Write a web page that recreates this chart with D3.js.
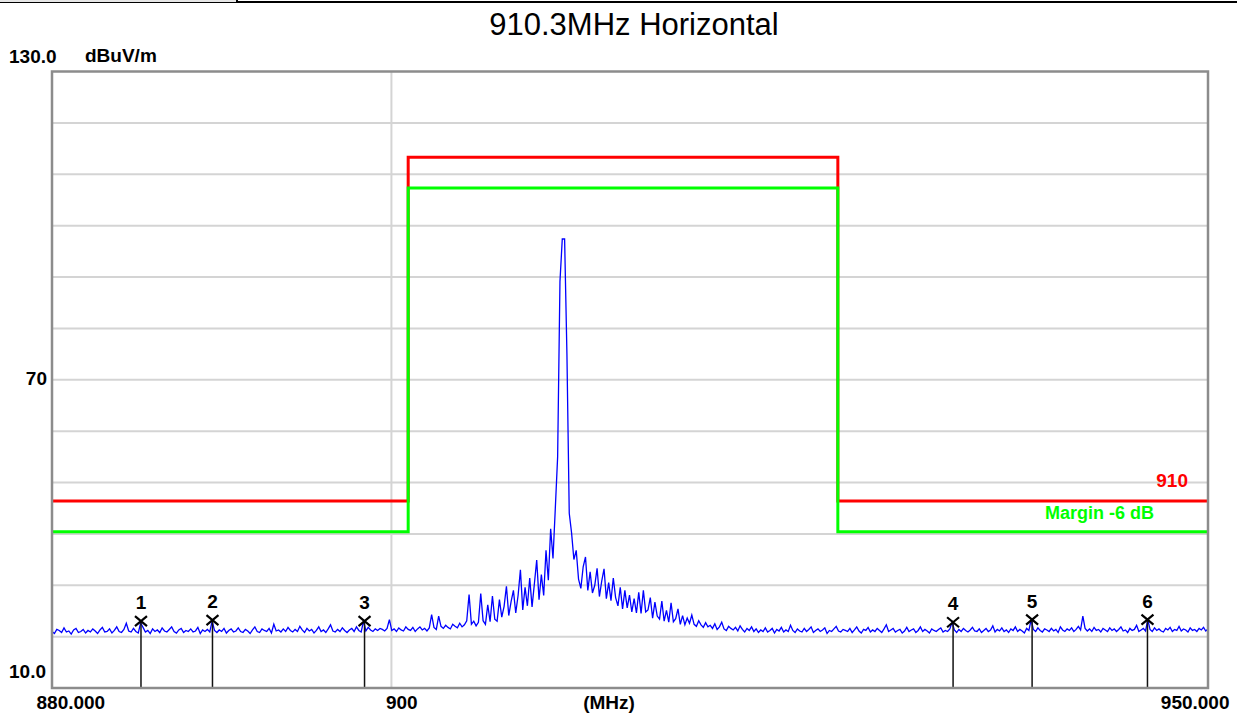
<!DOCTYPE html>
<html>
<head>
<meta charset="utf-8">
<script src="https://cdn.jsdelivr.net/npm/d3@7/dist/d3.min.js"></script>
<style>
  body { margin: 0; background: #fff; }
  svg { display: block; }
  text { font-family: "Liberation Sans", Arial, sans-serif; }
  .lbl { font-weight: bold; font-size: 19px; fill: #000; }
</style>
</head>
<body>
<svg id="chart" width="1237" height="713"></svg>
<script>
/* spectrum scan, 880 - 950 MHz, 501 sweep points */

const title = "910.3MHz Horizontal";
const unitY = "dBuV/m";
const unitX = "(MHz)";

const sweepStart = 880, sweepStop = 950;
// measured level per sweep point (dBuV/m)
const traceLevel = [
  21.0,20.6,21.4,21.2,20.8,21.7,20.9,21.1,20.5,21.3,
  21.6,20.8,21.0,21.4,20.7,21.2,20.9,21.5,21.1,20.6,
  21.3,21.8,20.9,21.0,21.5,20.7,21.2,21.9,21.0,20.8,
  21.4,22.6,21.1,20.9,21.6,21.0,20.7,22.7,21.8,20.9,
  21.2,20.6,21.5,21.0,21.3,20.8,21.7,21.1,20.9,21.4,
  21.9,21.0,20.7,21.3,21.6,20.8,21.2,21.0,21.5,20.9,
  21.1,21.8,20.6,21.3,21.0,21.4,20.9,23.0,21.2,20.8,
  21.3,21.0,21.6,20.7,21.2,21.5,20.9,21.1,21.7,21.0,
  20.8,21.4,21.1,20.6,21.3,21.9,21.0,20.8,21.5,21.2,
  21.0,21.6,20.7,22.4,21.1,21.3,20.9,21.5,21.0,21.8,
  21.2,20.9,21.4,21.0,22.0,21.3,20.8,21.6,21.1,21.4,
  20.7,21.2,21.9,21.0,21.3,20.8,21.5,22.3,21.1,20.9,
  21.4,21.0,21.7,21.2,20.8,21.3,21.6,21.0,21.9,21.2,
  20.9,23.0,21.1,21.8,21.3,21.0,21.5,21.2,21.6,21.4,
  21.1,21.6,23.3,21.2,21.5,21.0,21.7,21.3,21.1,21.9,
  21.4,21.2,21.8,21.0,21.5,21.9,21.3,21.6,21.1,21.7,
  24.3,21.8,21.4,24.0,22.0,21.6,22.2,21.8,21.5,22.4,
  22.0,21.7,22.6,21.9,22.3,23.1,28.2,22.4,23.0,22.1,
  22.8,28.4,23.1,22.4,26.2,22.9,27.9,23.4,23.0,27.2,
  23.8,25.9,29.8,24.1,26.8,29.0,24.6,28.0,33.0,25.2,
  29.6,26.0,31.4,25.8,30.3,34.9,27.2,32.1,28.0,36.8,
  31.0,41.0,35.2,45.0,55.0,89.1,97.4,97.4,75.0,44.0,
  40.2,35.0,36.8,31.2,29.4,33.6,35.5,29.0,32.6,28.5,
  30.0,33.3,27.8,30.8,33.2,27.4,30.5,27.0,31.4,27.6,
  26.0,29.6,25.4,29.0,25.6,28.1,24.8,27.4,24.6,28.6,
  24.5,29.0,24.8,25.2,27.6,23.6,26.7,24.0,23.4,26.9,
  23.0,25.1,22.8,26.6,22.9,23.5,25.4,22.4,24.1,22.3,
  23.6,22.6,24.2,22.4,22.0,23.1,22.3,21.8,22.7,21.9,
  22.2,21.6,22.5,21.4,21.9,22.8,21.5,21.2,22.0,21.6,
  21.3,21.8,21.1,22.1,21.4,20.9,21.6,21.2,21.9,21.0,
  21.5,20.8,21.3,21.0,21.7,20.9,21.2,21.6,20.7,21.4,
  21.1,21.8,20.9,21.3,21.0,22.2,21.2,20.8,21.5,21.1,
  20.9,21.6,21.0,21.4,21.9,20.8,21.2,21.5,21.0,21.3,
  21.7,20.6,21.2,21.0,21.5,22.0,21.1,20.9,21.4,21.2,
  21.0,21.6,20.8,21.3,21.9,21.1,20.7,21.4,21.2,21.8,
  20.9,21.3,21.0,21.6,21.2,20.8,21.5,22.3,21.0,21.3,
  21.6,20.9,21.2,21.4,20.7,21.1,21.8,21.0,21.3,21.5,
  20.8,21.2,21.9,21.0,21.4,21.1,20.7,21.5,21.2,21.0,
  21.4,21.7,20.9,21.2,21.0,21.5,22.8,21.3,20.8,21.4,
  21.0,21.6,21.2,20.9,21.3,21.8,21.1,21.0,21.5,20.8,
  21.2,21.6,21.0,21.3,22.1,20.9,21.4,21.1,21.7,21.0,
  21.3,20.8,21.5,21.2,21.9,21.0,21.4,21.1,20.7,21.6,
  21.2,23.3,21.4,21.0,21.7,21.2,20.9,21.5,21.3,21.0,
  21.6,21.1,21.4,20.8,21.9,21.3,21.0,21.5,21.2,21.7,
  21.0,21.4,22.0,21.3,24.0,21.6,21.1,21.5,21.0,21.8,
  21.2,21.4,20.9,21.6,21.3,21.0,21.7,21.2,21.5,21.0,
  21.4,21.9,21.1,21.3,20.8,21.6,21.2,21.4,22.2,21.0,
  21.3,21.6,21.1,23.3,21.4,21.0,21.7,21.2,21.5,21.1,
  20.9,21.6,21.3,21.8,21.0,21.4,21.2,22.0,21.1,21.5,
  21.3,20.9,21.7,21.2,21.4,21.0,21.6,21.3,21.8,21.1,21.5
];

// limit line "910" and the -6 dB margin
const limitFreq  = [880, 901, 901, 927, 927, 950];
const limitLevel = [46.4, 46.4, 113.3, 113.3, 46.4, 46.4];
const marginDb = -6;
const limitName = "910";
const marginName = "Margin -6 dB";

// peak markers
const markerId    = ["1", "2", "3", "4", "5", "6"];
const markerFreq  = [885.2, 889.4, 898.4, 934.1, 939.0, 946.2];
const markerLevel = [23.0, 23.2, 23.0, 22.8, 23.3, 23.3];

// axes
const yMin = 10, yMax = 130, yStep = 10;
const yTickValues = [130, 70, 10];
const yTickLabels = ["130.0", "70", "10.0"];
const xGridValues = [900];
const xTickValues = [880, 900, 950];
const xTickLabels = ["880.000", "900", "950.000"];

/* ---- drawing ---- */
const svg = d3.select("#chart");
const plot = {left: 52, right: 1208, top: 71.5, bottom: 688};

const x = d3.scaleLog().domain([sweepStart, sweepStop]).range([plot.left, plot.right]);
const y = d3.scaleLinear().domain([yMin, yMax]).range([plot.bottom, plot.top]);

const step = (sweepStop - sweepStart) / (traceLevel.length - 1);
const trace = traceLevel.map((v, i) => ({f: sweepStart + i * step, v: v}));

svg.append("rect").attr("width", 1237).attr("height", 713).attr("fill", "#fff");

// header strip at the very top (page border of the report)
svg.append("rect").attr("x", 0).attr("y", 0).attr("width", 236).attr("height", 2).attr("fill", "#e6e6e6");
svg.append("line").attr("x1", 0).attr("x2", 236).attr("y1", 2.5).attr("y2", 2.5)
    .attr("stroke", "#000").attr("stroke-width", 1);
svg.append("line").attr("x1", 237).attr("x2", 1237).attr("y1", 2).attr("y2", 2)
    .attr("stroke", "#000").attr("stroke-width", 2);
svg.append("line").attr("x1", 237).attr("x2", 237).attr("y1", 0).attr("y2", 3)
    .attr("stroke", "#000").attr("stroke-width", 2);

svg.append("text").attr("x", 634).attr("y", 35).attr("text-anchor", "middle")
    .attr("font-size", 31).attr("fill", "#000").text(title);

// grid
const grid = svg.append("g");
grid.selectAll(".hg").data(d3.range(yMin + yStep, yMax, yStep)).join("line")
    .attr("x1", plot.left).attr("x2", plot.right)
    .attr("y1", d => y(d)).attr("y2", d => y(d))
    .attr("stroke", "#d4d4d4").attr("stroke-width", 2);
grid.selectAll(".vg").data(xGridValues).join("line")
    .attr("x1", d => x(d)).attr("x2", d => x(d))
    .attr("y1", plot.top).attr("y2", plot.bottom)
    .attr("stroke", "#d4d4d4").attr("stroke-width", 2);

// limit + margin
const limit = limitFreq.map((f, i) => ({f: f, v: limitLevel[i]}));
const limLine = d3.line().x(d => x(d.f)).y(d => y(d.v));
svg.append("path").attr("d", limLine(limit))
    .attr("fill", "none").attr("stroke", "#ff0000").attr("stroke-width", 3);
svg.append("path").attr("d", limLine(limit.map(d => ({f: d.f, v: d.v + marginDb}))))
    .attr("fill", "none").attr("stroke", "#00ff00").attr("stroke-width", 3);

const lastLim = limitLevel[limitLevel.length - 1];
svg.append("text").attr("class", "lbl").attr("x", 1188).attr("y", y(lastLim) - 13.5)
    .attr("text-anchor", "end").style("fill", "#ff0000").attr("font-size", 19).text(limitName);
svg.append("text").attr("class", "lbl").attr("x", 1154).attr("y", y(lastLim + marginDb) - 13)
    .attr("text-anchor", "end").style("fill", "#00ff00").style("font-size", "18px").text(marginName);

// trace
svg.append("path").attr("d", d3.line().x(d => x(d.f)).y(d => y(d.v))(trace))
    .attr("fill", "none").attr("stroke", "#0000ff").attr("stroke-width", 1.3);

// markers
const mk = svg.append("g").selectAll("g")
    .data(markerId.map((id, i) => ({id: id, f: markerFreq[i], v: markerLevel[i]})))
    .join("g")
    .attr("transform", d => "translate(" + x(d.f) + "," + y(d.v) + ")");
mk.append("line").attr("x1", 0).attr("x2", 0).attr("y1", 0)
    .attr("y2", d => plot.bottom - y(d.v))
    .attr("stroke", "#111").attr("stroke-width", 1.5);
mk.append("path").attr("d", "M-6,-5L6,5M-6,5L6,-5")
    .attr("stroke", "#000").attr("stroke-width", 2.2).attr("fill", "none");
mk.append("text").attr("class", "lbl").attr("y", -12).attr("text-anchor", "middle")
    .text(d => d.id);

// frame
svg.append("rect").attr("x", plot.left).attr("y", plot.top)
    .attr("width", plot.right - plot.left).attr("height", plot.bottom - plot.top)
    .attr("fill", "none").attr("stroke", "#8c8c8c").attr("stroke-width", 2.5);

// y axis labels
const yAx = svg.append("g").call(d3.axisLeft(y).tickValues(yTickValues)
    .tickFormat((d, i) => yTickLabels[i]).tickSize(0));
yAx.select(".domain").remove();
yAx.selectAll("text").attr("class", "lbl").attr("dy", null)
    .attr("text-anchor", d => d == 70 ? "end" : "start")
    .attr("x", d => d == 70 ? 47 : 9)
    .attr("y", d => d == 130 ? -9.5 : (d == 10 ? -10.7 : 4.5));
svg.append("text").attr("class", "lbl").attr("x", 85).attr("y", 62).text(unitY);

// x axis labels
const xAx = svg.append("g").attr("transform", "translate(0," + plot.bottom + ")")
    .call(d3.axisBottom(x).tickValues(xTickValues)
        .tickFormat((d, i) => xTickLabels[i]).tickSize(0));
xAx.select(".domain").remove();
xAx.selectAll("text").attr("class", "lbl").attr("dy", null).attr("y", 21)
    .attr("text-anchor", d => d == 950 ? "end" : "start")
    .attr("x", d => d == 880 ? -16 : (d == 900 ? -6 : 21));
svg.append("text").attr("class", "lbl").attr("x", 609).attr("y", 709)
    .attr("text-anchor", "middle").text(unitX);
</script>
</body>
</html>
